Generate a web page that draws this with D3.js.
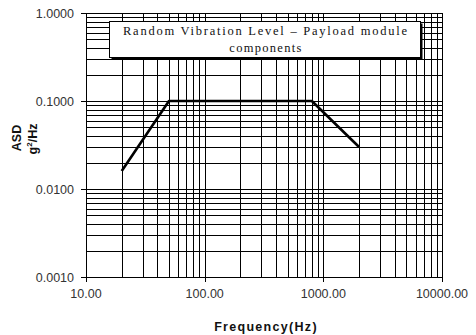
<!DOCTYPE html>
<html>
<head>
<meta charset="utf-8">
<script src="https://cdn.jsdelivr.net/npm/d3@7"></script>
<style>
  body { margin: 0; background: #fff; }
  svg { display: block; }
  .tick-label { font-family: "Liberation Sans", Arial, sans-serif; font-size: 12.5px; fill: #333; }
  .axis-title { font-family: "Liberation Sans", Arial, sans-serif; font-size: 12.5px; font-weight: bold; fill: #111; }
  .box-text { font-family: "Liberation Serif", "Times New Roman", serif; font-size: 12.5px; fill: #111; }
</style>
</head>
<body>
<svg width="476" height="335"></svg>
<script>
// data
const frequency = [20, 50, 800, 2000];
const asdLevel = [0.016, 0.1, 0.1, 0.03];
const xTickValues = [10, 100, 1000, 10000];
const yTickValues = [0.001, 0.01, 0.1, 1];
const titleLines = ["Random Vibration Level \u2013 Payload module", "components"];

const svg = d3.select("svg");
const margin = {top: 13, right: 34, bottom: 58, left: 86};
const width = +svg.attr("width"), height = +svg.attr("height");

const x = d3.scaleLog().domain([10, 10000]).range([margin.left, width - margin.right]);
const y = d3.scaleLog().domain([0.001, 1]).range([height - margin.bottom, margin.top]);

const snap = v => Math.round(v) + 0.5;

// Grid (major + minor)
const grid = svg.append("g").attr("stroke", "#000").attr("stroke-width", 1);
grid.selectAll(".vx")
  .data(x.ticks())
  .enter().append("line")
  .attr("x1", d => snap(x(d))).attr("x2", d => snap(x(d)))
  .attr("y1", y.range()[1]).attr("y2", y.range()[0]);
grid.selectAll(".hy")
  .data(y.ticks())
  .enter().append("line")
  .attr("y1", d => snap(y(d))).attr("y2", d => snap(y(d)))
  .attr("x1", x.range()[0]).attr("x2", x.range()[1]);

// Frame
svg.append("rect")
  .attr("x", snap(x.range()[0])).attr("y", snap(y.range()[1]))
  .attr("width", Math.round(x.range()[1]) - Math.round(x.range()[0]))
  .attr("height", Math.round(y.range()[0]) - Math.round(y.range()[1]))
  .attr("fill", "none").attr("stroke", "#000");

// Axis ticks + labels
svg.selectAll(".xt")
  .data(xTickValues)
  .enter().append("line")
  .attr("x1", d => snap(x(d))).attr("x2", d => snap(x(d)))
  .attr("y1", y.range()[0]).attr("y2", y.range()[0] + 5)
  .attr("stroke", "#000");
svg.selectAll(".xl")
  .data(xTickValues)
  .enter().append("text")
  .attr("class", "tick-label")
  .attr("x", d => x(d)).attr("y", y.range()[0] + 21)
  .attr("text-anchor", "middle")
  .text(d3.format(".2f"));

svg.selectAll(".yt")
  .data(yTickValues)
  .enter().append("line")
  .attr("y1", d => snap(y(d))).attr("y2", d => snap(y(d)))
  .attr("x1", x.range()[0] - 5).attr("x2", x.range()[0])
  .attr("stroke", "#000");
svg.selectAll(".yl")
  .data(yTickValues)
  .enter().append("text")
  .attr("class", "tick-label")
  .attr("x", x.range()[0] - 12).attr("y", d => y(d) + 4.5)
  .attr("text-anchor", "end")
  .text(d3.format(".4f"));

// Axis titles
svg.append("text")
  .attr("class", "axis-title")
  .attr("x", 266).attr("y", 331)
  .attr("text-anchor", "middle")
  .style("letter-spacing", "1.3px")
  .text("Frequency(Hz)");

svg.append("text")
  .attr("class", "axis-title")
  .attr("transform", "translate(21,138) rotate(-90)")
  .attr("text-anchor", "middle")
  .text("ASD");

const gLabel = svg.append("text")
  .attr("class", "axis-title")
  .attr("transform", "translate(37,139) rotate(-90)")
  .attr("text-anchor", "middle");
gLabel.append("tspan").text("g");
gLabel.append("tspan").attr("dy", -5).style("font-size", "8px").text("2");
gLabel.append("tspan").attr("dy", 5).text("/Hz");

// Data line
const line = d3.line()
  .x((d, i) => x(frequency[i]))
  .y(d => y(d));
svg.append("path")
  .datum(asdLevel)
  .attr("d", line)
  .attr("fill", "none")
  .attr("stroke", "#000")
  .attr("stroke-width", 2.6)
  .attr("stroke-linejoin", "round");

// Title box with shadow
const box = {x: 109.5, y: 21.5, w: 311, h: 36};
svg.append("rect")
  .attr("x", box.x + 2).attr("y", box.y + 2)
  .attr("width", box.w).attr("height", box.h)
  .attr("fill", "#000");
svg.append("rect")
  .attr("x", box.x).attr("y", box.y)
  .attr("width", box.w).attr("height", box.h)
  .attr("fill", "#fff").attr("stroke", "#000");

svg.append("text")
  .attr("class", "box-text")
  .attr("x", 123).attr("y", 35)
  .attr("textLength", 284)
  .attr("lengthAdjust", "spacing")
  .text(titleLines[0]);
svg.append("text")
  .attr("class", "box-text")
  .attr("x", 266).attr("y", 52)
  .attr("text-anchor", "middle")
  .style("letter-spacing", "1.3px")
  .text(titleLines[1]);
</script>
</body>
</html>
